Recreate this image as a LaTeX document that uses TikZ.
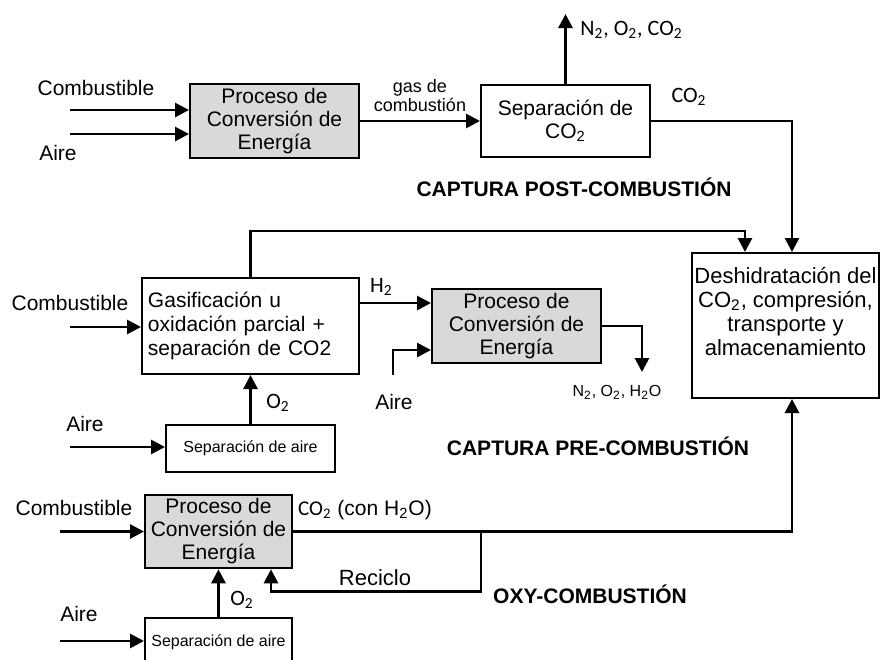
\documentclass[tikz,border=0pt]{standalone}
\usepackage{fontspec}
\setmainfont{Liberation Sans}
\newfontfamily\calib{Carlito}
\usetikzlibrary{arrows.meta,positioning,calc}
\definecolor{boxgray}{RGB}{217,217,217}

\begin{document}
\begin{tikzpicture}[x=0.5pt, y=-0.5pt,
    box/.style={rectangle, draw, line width=1pt, align=center, font=\fontsize{10.5}{11.5}\selectfont, inner sep=2pt},
    proc/.style={box, fill=boxgray, minimum width=84.5pt, minimum height=36pt},
    airsep/.style={box, font=\fontsize{8}{10}\selectfont, minimum width=73.5pt, minimum height=23.5pt},
    arrow/.style={->, line width=1.4pt, >={Triangle[length=7pt,width=7pt]}},
    lbl/.style={font=\fontsize{10.5}{12}\selectfont, inner sep=0pt},
    small/.style={font=\fontsize{8}{10}\selectfont, inner sep=0pt},
    chem/.style={font=\calib\fontsize{11}{13}\selectfont, inner sep=0pt},
    title/.style={font=\bfseries\fontsize{10.5}{12}\selectfont, inner sep=0pt}]

    \useasboundingbox (0,0) rectangle (880,660);
    \clip (0,0) rectangle (880,660);

    % Post-combustion
    \node[proc] (proc1) at (274.5,121) {Proceso de\\Conversión de\\Energía};
    \node[box, minimum width=84.5pt, minimum height=36pt, right=60pt of proc1] (sepco) {Separación de\\CO\textsubscript{2}};

    % Storage
    \node[box, minimum width=92.5pt, minimum height=72.5pt, inner xsep=1pt, font=\fontsize{11}{12}\selectfont] (deshid) at (785.5,325.5) {Deshidratación del\\CO\textsubscript{2},\ compresión,\\transporte y\\almacenamiento\\[2pt]};

    % Pre-combustion
    \node[box, align=left, text width=102.5pt, inner xsep=3pt, minimum height=48pt, font=\fontsize{10.5}{12}\selectfont] (gasif) at (250.5,326) {Gasificación u\\oxidación parcial +\\separación de CO2};
    \node[proc, right=35.5pt of gasif] (proc2) {Proceso de\\Conversión de\\Energía};
    \node[airsep, minimum width=84.5pt, below=24.5pt of gasif] (sepairA) {Separación de aire};

    % Oxy-combustion
    \node[proc, minimum width=73.5pt] (proc3) at (218.5,531.5) {Proceso de\\Conversión de\\Energía};
    \node[airsep, below=24pt of proc3] (sepairB) {Separación de aire};

    % Inputs
    \coordinate (fuelA) at (70,110);
    \coordinate (airA) at (70,134);
    \coordinate (fuelB) at (70,327);
    \coordinate (airB) at (393,375);
    \coordinate (airC) at (70,447);
    \coordinate (fuelC) at (60,531.5);
    \coordinate (airD) at (60,641);
    \draw[arrow] (fuelA) -- (fuelA -| proc1.west);
    \draw[arrow] (airA) -- (airA -| proc1.west);
    \draw[arrow] (fuelB) -- (fuelB -| gasif.west);
    \draw[arrow] (airB) |- ([yshift=-12pt]proc2.west);
    \draw[arrow] (airC) -- (airC -| sepairA.west);
    \draw[arrow] (fuelC) -- (fuelC -| proc3.west);
    \draw[arrow] (airD) -- (airD -| sepairB.west);

    % Arrows
    \draw[arrow] (proc1.east) -- node[above=4pt, font=\fontsize{9}{9.5}\selectfont, align=center, inner sep=0pt] (fluegas) {gas de\\combustión} (sepco.west);
    \draw[arrow] (sepco.north) -- ++(0,-70) coordinate (ventA);
    \draw[arrow] (sepco.east) -| ([xshift=3.25pt]deshid.north);
    \draw[arrow] (gasif.north) -- ++(0,-46) -| ([xshift=-20.25pt]deshid.north);
    \draw[arrow] ([yshift=11.5pt]gasif.east) -- node[pos=0.3, above=3pt, chem] (htwo) {H\textsubscript{2}} ([yshift=11.5pt]proc2.west);
    \draw[arrow] (proc2.east) -- ++(40,0) -- ++(0,46) coordinate (ventB);
    \draw[arrow] (sepairA) -- (gasif);
    \draw[arrow] (proc3.east) -| ([xshift=3.25pt]deshid.south);
    \path (proc3.east) -- ++(188,0) coordinate (split);
    \draw[arrow] (split) -- ++(0,60) -| ([xshift=26.25pt]proc3.south);
    \draw[arrow] (sepairB) -- (proc3);

    % Labels
    \node[lbl] (fuelAtxt) at (96,88) {Combustible};
    \node[lbl] (airAtxt) at (58,153) {Aire};
    \node[chem, anchor=west] (ventAtxt) at (580,30) {N\textsubscript{2}, O\textsubscript{2}, CO\textsubscript{2}};
    \node[chem] (coAtxt) at (689,97) {CO\textsubscript{2}};
    \node[lbl] (fuelBtxt) at (70,303) {Combustible};
    \node[lbl] (airBtxt) at (394,402) {Aire};
    \node[small] (ventBtxt) at (617,392) {N\textsubscript{2}, O\textsubscript{2}, H\textsubscript{2}O};
    \node[chem] (oxA) at (278,403) {O\textsubscript{2}};
    \node[lbl] (airCtxt) at (85,424) {Aire};
    \node[lbl] (fuelCtxt) at (74,508) {Combustible};
    \node[lbl] (coCtxt) at (365,510) {{\calib CO\textsubscript{2}} (con H\textsubscript{2}O)};
    \node[lbl, font=\fontsize{11}{12}\selectfont] (recycle) at (375,578) {Reciclo};
    \node[chem] (oxB) at (242,600) {O\textsubscript{2}};
    \node[lbl] (airDtxt) at (79,614) {Aire};

    % Titles
    \node[title] (posttitle) at (574,187) {CAPTURA POST-COMBUSTIÓN};
    \node[title] (pretitle) at (598,446) {CAPTURA PRE-COMBUSTIÓN};
    \node[title] (oxytitle) at (590,594) {OXY-COMBUSTIÓN};

\end{tikzpicture}
\end{document}
